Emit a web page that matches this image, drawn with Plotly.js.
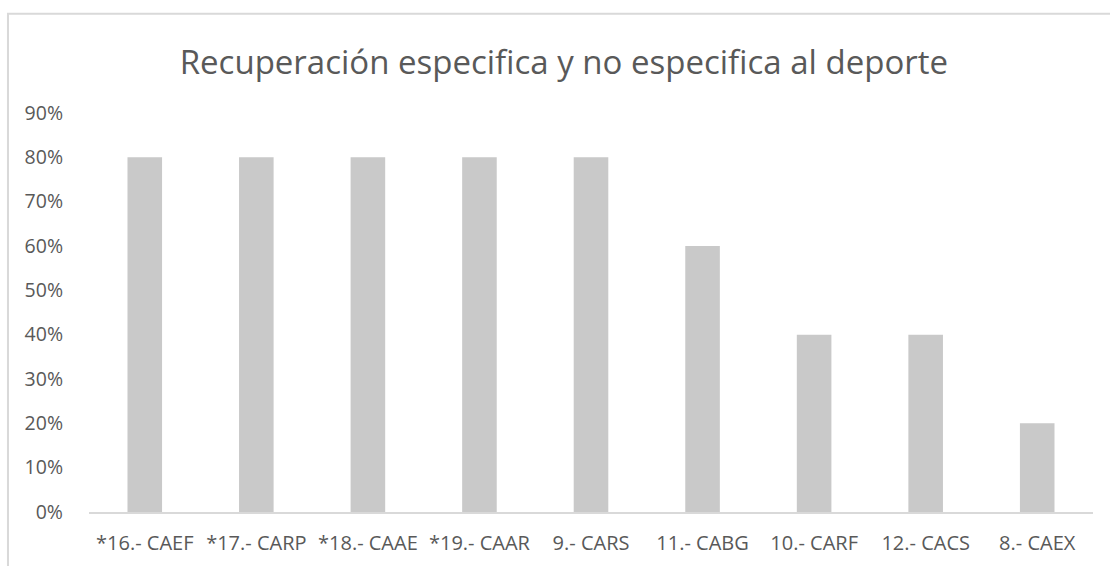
<!DOCTYPE html>
<html><head><meta charset="utf-8">
<script src="https://cdn.plot.ly/plotly-3.0.1.min.js"></script>
<style>html,body{margin:0;padding:0;background:#fff}#c{width:1110px;height:566px}</style>
</head><body><div id="c"></div>
<script>
const categories = ["*16.- CAEF","*17.- CARP","*18.- CAAE","*19.- CAAR","9.- CARS","11.- CABG","10.- CARF","12.- CACS","8.- CAEX"];
const values = [0.8,0.8,0.8,0.8,0.8,0.6,0.4,0.4,0.2];
const yTicks = [0,0.1,0.2,0.3,0.4,0.5,0.6,0.7,0.8,0.9];
const yTickText = ["0%","10%","20%","30%","40%","50%","60%","70%","80%","90%"];

const font = "Open Sans, sans-serif";
Plotly.newPlot("c", [{
  type: "bar", x: categories, y: values,
  marker: {color: "#c9c9c9"}, hoverinfo: "none"
}], {
  width: 1110, height: 566,
  margin: {l: 89, r: 17, t: 112.6, b: 54},
  paper_bgcolor: "#fff", plot_bgcolor: "#fff",
  bargap: 0.69,
  showlegend: false,
  title: {text: "Recuperación especifica y no especifica al deporte", font: {family: font, size: 33, color: "#595959"}, x: 0.508, xref: "container", y: 0.89, yref: "container", yanchor: "middle"},
  xaxis: {type: "category", showgrid: false, showline: true, linecolor: "#d9d9d9", linewidth: 1.5, ticks: "", ticklabelstandoff: 12, tickfont: {family: font, size: 20, color: "#595959"}, zeroline: false},
  yaxis: {range: [0, 0.9], tickvals: yTicks, ticktext: yTickText, showgrid: false, zeroline: false, showline: false, ticks: "", ticklabelstandoff: 25, tickfont: {family: font, size: 19.5, color: "#595959"}},
  shapes: [{type: "rect", xref: "paper", yref: "paper", x0: -0.0807, x1: 1.1, y0: -0.3, y1: 1.249, line: {color: "#d9d9d9", width: 2}, fillcolor: "rgba(0,0,0,0)", layer: "below"}]
}, {displayModeBar: false, staticPlot: true});
</script></body></html>
